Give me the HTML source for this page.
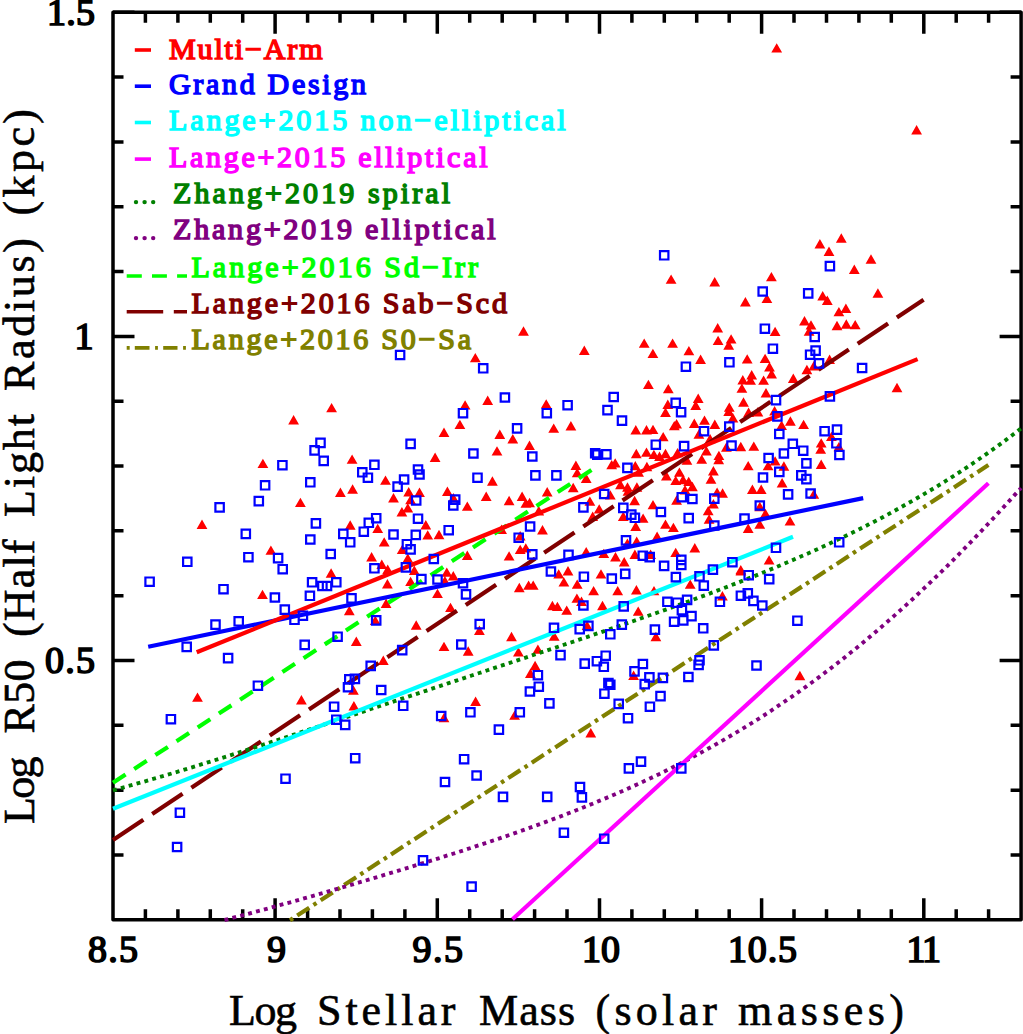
<!DOCTYPE html><html><head><meta charset="utf-8"><style>html,body{margin:0;padding:0;background:#fff;}svg{display:block}</style></head><body>
<svg width="1023" height="1034" viewBox="0 0 1023 1034">
<rect x="0" y="0" width="1023" height="1034" fill="#fff"/>
<g stroke="#000" stroke-width="3.5" fill="none" stroke-linecap="butt">
<path d="M113,919.8 L113,12.2 L1021.1,12.2 L1021.1,919.8 Z" stroke-linejoin="round"/>
<path d="M145.4,919.8v-10.5M145.4,12.2v10.5M177.9,919.8v-10.5M177.9,12.2v10.5M210.3,919.8v-10.5M210.3,12.2v10.5M242.7,919.8v-10.5M242.7,12.2v10.5M275.1,919.8v-21.5M275.1,12.2v21.5M307.6,919.8v-10.5M307.6,12.2v10.5M340.0,919.8v-10.5M340.0,12.2v10.5M372.4,919.8v-10.5M372.4,12.2v10.5M404.9,919.8v-10.5M404.9,12.2v10.5M437.3,919.8v-21.5M437.3,12.2v21.5M469.7,919.8v-10.5M469.7,12.2v10.5M502.2,919.8v-10.5M502.2,12.2v10.5M534.6,919.8v-10.5M534.6,12.2v10.5M567.0,919.8v-10.5M567.0,12.2v10.5M599.5,919.8v-21.5M599.5,12.2v21.5M631.9,919.8v-10.5M631.9,12.2v10.5M664.3,919.8v-10.5M664.3,12.2v10.5M696.7,919.8v-10.5M696.7,12.2v10.5M729.2,919.8v-10.5M729.2,12.2v10.5M761.6,919.8v-21.5M761.6,12.2v21.5M794.0,919.8v-10.5M794.0,12.2v10.5M826.5,919.8v-10.5M826.5,12.2v10.5M858.9,919.8v-10.5M858.9,12.2v10.5M891.3,919.8v-10.5M891.3,12.2v10.5M923.8,919.8v-21.5M923.8,12.2v21.5M956.2,919.8v-10.5M956.2,12.2v10.5M988.6,919.8v-10.5M988.6,12.2v10.5M113,855.0h10.5M1021.1,855.0h-10.5M113,790.2h10.5M1021.1,790.2h-10.5M113,725.3h10.5M1021.1,725.3h-10.5M113,660.5h21.5M1021.1,660.5h-21.5M113,595.7h10.5M1021.1,595.7h-10.5M113,530.8h10.5M1021.1,530.8h-10.5M113,466.0h10.5M1021.1,466.0h-10.5M113,401.2h10.5M1021.1,401.2h-10.5M113,336.4h21.5M1021.1,336.4h-21.5M113,271.5h10.5M1021.1,271.5h-10.5M113,206.7h10.5M1021.1,206.7h-10.5M113,141.9h10.5M1021.1,141.9h-10.5M113,77.0h10.5M1021.1,77.0h-10.5M113,12.2h21.5M1021.1,12.2h-21.5"/>
</g>
<path d="M771.3,52.6h10.8l-5.40,-9.4zM911.2,134.4h10.8l-5.40,-9.4zM518.1,335.7h10.8l-5.40,-9.4zM578.9,355.0h10.8l-5.40,-9.4zM469.9,362.3h10.8l-5.40,-9.4zM520.5,507.7h10.8l-5.40,-9.4zM524.2,507.2h10.8l-5.40,-9.4zM615.1,489.2h10.8l-5.40,-9.4zM606.3,469.3h10.8l-5.40,-9.4zM609.8,467.6h10.8l-5.40,-9.4zM454.5,429.1h10.8l-5.40,-9.4zM794.5,680.2h10.8l-5.40,-9.4zM665.7,283.8h10.8l-5.40,-9.4zM709.3,286.5h10.8l-5.40,-9.4zM766.0,281.3h10.8l-5.40,-9.4zM740.0,306.4h10.8l-5.40,-9.4zM761.5,303.1h10.8l-5.40,-9.4zM712.3,332.4h10.8l-5.40,-9.4zM769.7,336.1h10.8l-5.40,-9.4zM638.8,347.8h10.8l-5.40,-9.4zM667.2,347.8h10.8l-5.40,-9.4zM712.7,345.1h10.8l-5.40,-9.4zM725.7,343.6h10.8l-5.40,-9.4zM723.3,349.7h10.8l-5.40,-9.4zM647.5,358.1h10.8l-5.40,-9.4zM683.5,355.3h10.8l-5.40,-9.4zM695.2,364.0h10.8l-5.40,-9.4zM741.8,363.6h10.8l-5.40,-9.4zM759.7,363.1h10.8l-5.40,-9.4zM764.1,371.4h10.8l-5.40,-9.4zM766.2,378.5h10.8l-5.40,-9.4zM746.3,379.4h10.8l-5.40,-9.4zM737.4,384.4h10.8l-5.40,-9.4zM745.2,384.8h10.8l-5.40,-9.4zM758.2,384.8h10.8l-5.40,-9.4zM736.5,392.8h10.8l-5.40,-9.4zM787.9,382.9h10.8l-5.40,-9.4zM643.0,389.1h10.8l-5.40,-9.4zM662.9,393.3h10.8l-5.40,-9.4zM760.6,397.4h10.8l-5.40,-9.4zM692.8,403.0h10.8l-5.40,-9.4zM814.5,248.5h10.8l-5.40,-9.4zM835.9,242.7h10.8l-5.40,-9.4zM823.6,255.9h10.8l-5.40,-9.4zM865.6,263.7h10.8l-5.40,-9.4zM848.9,273.9h10.8l-5.40,-9.4zM872.5,297.7h10.8l-5.40,-9.4zM817.3,300.5h10.8l-5.40,-9.4zM821.9,304.9h10.8l-5.40,-9.4zM840.5,312.9h10.8l-5.40,-9.4zM833.5,316.3h10.8l-5.40,-9.4zM799.1,325.4h10.8l-5.40,-9.4zM805.6,329.6h10.8l-5.40,-9.4zM803.7,335.8h10.8l-5.40,-9.4zM831.6,330.2h10.8l-5.40,-9.4zM840.9,328.7h10.8l-5.40,-9.4zM849.8,329.3h10.8l-5.40,-9.4zM824.2,364.0h10.8l-5.40,-9.4zM808.4,370.5h10.8l-5.40,-9.4zM801.5,374.2h10.8l-5.40,-9.4zM891.6,392.2h10.8l-5.40,-9.4zM257.5,468.1h10.8l-5.40,-9.4zM196.6,529.0h10.8l-5.40,-9.4zM265.5,554.8h10.8l-5.40,-9.4zM326.2,412.3h10.8l-5.40,-9.4zM288.2,424.4h10.8l-5.40,-9.4zM438.6,437.0h10.8l-5.40,-9.4zM346.7,463.8h10.8l-5.40,-9.4zM429.7,461.9h10.8l-5.40,-9.4zM380.1,484.8h10.8l-5.40,-9.4zM347.2,493.7h10.8l-5.40,-9.4zM335.0,496.9h10.8l-5.40,-9.4zM295.0,507.1h10.8l-5.40,-9.4zM403.3,496.5h10.8l-5.40,-9.4zM414.1,496.9h10.8l-5.40,-9.4zM388.1,502.4h10.8l-5.40,-9.4zM405.2,504.3h10.8l-5.40,-9.4zM402.4,512.6h10.8l-5.40,-9.4zM396.5,516.4h10.8l-5.40,-9.4zM442.0,495.9h10.8l-5.40,-9.4zM344.8,529.7h10.8l-5.40,-9.4zM372.3,533.1h10.8l-5.40,-9.4zM420.4,529.4h10.8l-5.40,-9.4zM422.3,539.6h10.8l-5.40,-9.4zM433.6,539.2h10.8l-5.40,-9.4zM378.8,546.6h10.8l-5.40,-9.4zM396.8,554.1h10.8l-5.40,-9.4zM366.2,561.5h10.8l-5.40,-9.4zM402.4,562.8h10.8l-5.40,-9.4zM376.4,568.9h10.8l-5.40,-9.4zM382.3,573.9h10.8l-5.40,-9.4zM482.3,404.9h10.8l-5.40,-9.4zM459.7,409.6h10.8l-5.40,-9.4zM540.8,408.6h10.8l-5.40,-9.4zM548.3,432.8h10.8l-5.40,-9.4zM565.5,430.4h10.8l-5.40,-9.4zM494.4,438.9h10.8l-5.40,-9.4zM507.4,443.4h10.8l-5.40,-9.4zM524.1,450.0h10.8l-5.40,-9.4zM491.6,455.6h10.8l-5.40,-9.4zM487.0,485.7h10.8l-5.40,-9.4zM570.5,469.9h10.8l-5.40,-9.4zM571.8,477.3h10.8l-5.40,-9.4zM580.8,482.9h10.8l-5.40,-9.4zM448.0,502.4h10.8l-5.40,-9.4zM461.9,510.8h10.8l-5.40,-9.4zM480.8,500.9h10.8l-5.40,-9.4zM503.7,505.2h10.8l-5.40,-9.4zM516.7,500.9h10.8l-5.40,-9.4zM541.8,496.5h10.8l-5.40,-9.4zM567.8,492.2h10.8l-5.40,-9.4zM533.4,515.4h10.8l-5.40,-9.4zM584.5,505.8h10.8l-5.40,-9.4zM593.8,513.6h10.8l-5.40,-9.4zM587.3,521.0h10.8l-5.40,-9.4zM604.9,499.6h10.8l-5.40,-9.4zM617.9,521.0h10.8l-5.40,-9.4zM496.2,534.0h10.8l-5.40,-9.4zM537.1,534.4h10.8l-5.40,-9.4zM514.8,540.5h10.8l-5.40,-9.4zM514.8,554.1h10.8l-5.40,-9.4zM520.4,552.6h10.8l-5.40,-9.4zM461.9,560.0h10.8l-5.40,-9.4zM503.7,560.6h10.8l-5.40,-9.4zM580.8,556.3h10.8l-5.40,-9.4zM598.4,558.1h10.8l-5.40,-9.4zM610.1,561.5h10.8l-5.40,-9.4zM618.8,566.5h10.8l-5.40,-9.4zM662.4,409.0h10.8l-5.40,-9.4zM690.3,409.9h10.8l-5.40,-9.4zM660.1,416.9h10.8l-5.40,-9.4zM668.9,430.3h10.8l-5.40,-9.4zM671.2,428.5h10.8l-5.40,-9.4zM688.9,428.0h10.8l-5.40,-9.4zM699.1,424.8h10.8l-5.40,-9.4zM630.4,434.5h10.8l-5.40,-9.4zM641.1,434.5h10.8l-5.40,-9.4zM647.6,434.1h10.8l-5.40,-9.4zM657.8,441.3h10.8l-5.40,-9.4zM693.5,438.7h10.8l-5.40,-9.4zM630.9,458.2h10.8l-5.40,-9.4zM641.1,456.8h10.8l-5.40,-9.4zM648.5,459.1h10.8l-5.40,-9.4zM654.1,461.0h10.8l-5.40,-9.4zM660.1,458.2h10.8l-5.40,-9.4zM672.2,457.3h10.8l-5.40,-9.4zM701.0,455.4h10.8l-5.40,-9.4zM696.3,463.8h10.8l-5.40,-9.4zM681.5,464.7h10.8l-5.40,-9.4zM629.9,470.3h10.8l-5.40,-9.4zM641.5,471.2h10.8l-5.40,-9.4zM633.2,476.8h10.8l-5.40,-9.4zM674.0,476.8h10.8l-5.40,-9.4zM661.0,480.5h10.8l-5.40,-9.4zM670.3,485.1h10.8l-5.40,-9.4zM677.7,484.2h10.8l-5.40,-9.4zM683.3,486.1h10.8l-5.40,-9.4zM738.1,406.7h10.8l-5.40,-9.4zM723.9,411.8h10.8l-5.40,-9.4zM723.3,416.0h10.8l-5.40,-9.4zM743.2,416.9h10.8l-5.40,-9.4zM752.5,416.4h10.8l-5.40,-9.4zM769.2,415.5h10.8l-5.40,-9.4zM727.5,422.5h10.8l-5.40,-9.4zM709.4,429.0h10.8l-5.40,-9.4zM785.0,425.7h10.8l-5.40,-9.4zM776.2,429.9h10.8l-5.40,-9.4zM704.7,443.3h10.8l-5.40,-9.4zM721.0,451.7h10.8l-5.40,-9.4zM735.4,451.2h10.8l-5.40,-9.4zM748.4,450.8h10.8l-5.40,-9.4zM713.5,460.1h10.8l-5.40,-9.4zM713.3,464.2h10.8l-5.40,-9.4zM769.7,465.6h10.8l-5.40,-9.4zM762.7,470.3h10.8l-5.40,-9.4zM778.5,470.7h10.8l-5.40,-9.4zM742.8,470.3h10.8l-5.40,-9.4zM708.0,475.4h10.8l-5.40,-9.4zM705.6,483.7h10.8l-5.40,-9.4zM776.7,487.5h10.8l-5.40,-9.4zM622.1,491.7h10.8l-5.40,-9.4zM631.5,491.7h10.8l-5.40,-9.4zM622.6,495.7h10.8l-5.40,-9.4zM629.2,505.2h10.8l-5.40,-9.4zM637.7,522.8h10.8l-5.40,-9.4zM630.3,531.0h10.8l-5.40,-9.4zM647.6,509.3h10.8l-5.40,-9.4zM687.0,491.2h10.8l-5.40,-9.4zM679.6,494.5h10.8l-5.40,-9.4zM671.2,504.7h10.8l-5.40,-9.4zM660.1,528.8h10.8l-5.40,-9.4zM668.0,532.1h10.8l-5.40,-9.4zM651.7,540.9h10.8l-5.40,-9.4zM631.3,546.0h10.8l-5.40,-9.4zM622.0,547.8h10.8l-5.40,-9.4zM629.5,559.0h10.8l-5.40,-9.4zM645.2,559.0h10.8l-5.40,-9.4zM670.3,557.1h10.8l-5.40,-9.4zM689.4,552.5h10.8l-5.40,-9.4zM702.8,515.3h10.8l-5.40,-9.4zM703.7,523.7h10.8l-5.40,-9.4zM747.0,494.0h10.8l-5.40,-9.4zM755.8,494.0h10.8l-5.40,-9.4zM711.7,496.8h10.8l-5.40,-9.4zM717.2,497.7h10.8l-5.40,-9.4zM708.0,508.4h10.8l-5.40,-9.4zM754.4,511.2h10.8l-5.40,-9.4zM760.0,518.1h10.8l-5.40,-9.4zM784.6,525.6h10.8l-5.40,-9.4zM754.4,528.8h10.8l-5.40,-9.4zM742.8,533.0h10.8l-5.40,-9.4zM763.7,564.6h10.8l-5.40,-9.4zM735.4,574.3h10.8l-5.40,-9.4zM798.2,429.1h10.8l-5.40,-9.4zM815.8,447.6h10.8l-5.40,-9.4zM815.3,453.8h10.8l-5.40,-9.4zM826.0,441.1h10.8l-5.40,-9.4zM833.5,451.3h10.8l-5.40,-9.4zM815.8,469.0h10.8l-5.40,-9.4zM808.4,498.7h10.8l-5.40,-9.4zM257.1,599.1h10.8l-5.40,-9.4zM192.1,701.8h10.8l-5.40,-9.4zM325.7,577.7h10.8l-5.40,-9.4zM382.0,588.5h10.8l-5.40,-9.4zM408.9,574.9h10.8l-5.40,-9.4zM405.2,586.1h10.8l-5.40,-9.4zM441.4,576.8h10.8l-5.40,-9.4zM447.9,580.5h10.8l-5.40,-9.4zM439.5,585.5h10.8l-5.40,-9.4zM432.1,598.1h10.8l-5.40,-9.4zM380.7,608.0h10.8l-5.40,-9.4zM343.9,615.2h10.8l-5.40,-9.4zM445.1,612.1h10.8l-5.40,-9.4zM369.9,625.1h10.8l-5.40,-9.4zM410.8,629.7h10.8l-5.40,-9.4zM350.9,645.9h10.8l-5.40,-9.4zM438.6,651.1h10.8l-5.40,-9.4zM377.9,665.0h10.8l-5.40,-9.4zM348.0,694.7h10.8l-5.40,-9.4zM296.0,704.4h10.8l-5.40,-9.4zM348.5,710.5h10.8l-5.40,-9.4zM438.6,722.2h10.8l-5.40,-9.4zM513.9,592.2h10.8l-5.40,-9.4zM523.2,589.8h10.8l-5.40,-9.4zM527.8,589.8h10.8l-5.40,-9.4zM553.3,578.6h10.8l-5.40,-9.4zM562.6,575.5h10.8l-5.40,-9.4zM558.5,586.6h10.8l-5.40,-9.4zM571.8,588.8h10.8l-5.40,-9.4zM588.2,595.3h10.8l-5.40,-9.4zM595.6,578.6h10.8l-5.40,-9.4zM612.3,595.3h10.8l-5.40,-9.4zM547.0,610.2h10.8l-5.40,-9.4zM552.0,611.1h10.8l-5.40,-9.4zM561.3,614.8h10.8l-5.40,-9.4zM571.5,602.8h10.8l-5.40,-9.4zM576.1,605.9h10.8l-5.40,-9.4zM597.1,610.2h10.8l-5.40,-9.4zM474.0,634.9h10.8l-5.40,-9.4zM506.1,641.2h10.8l-5.40,-9.4zM548.8,640.8h10.8l-5.40,-9.4zM581.7,630.1h10.8l-5.40,-9.4zM462.8,655.7h10.8l-5.40,-9.4zM513.0,656.6h10.8l-5.40,-9.4zM532.5,653.8h10.8l-5.40,-9.4zM529.7,670.2h10.8l-5.40,-9.4zM525.0,678.0h10.8l-5.40,-9.4zM470.2,705.9h10.8l-5.40,-9.4zM509.2,719.8h10.8l-5.40,-9.4zM585.4,737.4h10.8l-5.40,-9.4zM735.5,575.5h10.8l-5.40,-9.4zM684.8,588.8h10.8l-5.40,-9.4zM631.0,594.4h10.8l-5.40,-9.4zM648.6,595.3h10.8l-5.40,-9.4zM717.0,600.4h10.8l-5.40,-9.4zM632.8,615.8h10.8l-5.40,-9.4zM650.5,641.2h10.8l-5.40,-9.4zM628.2,679.9h10.8l-5.40,-9.4z" fill="#ff0000"/>
<path d="M113.0,782.8 L592.3,469.5" fill="none" stroke="#00ff00" stroke-width="4.2" stroke-linecap="butt" stroke-dasharray="15 10.3"/>
<path d="M113.0,840.0 L923.6,299.8" fill="none" stroke="#800000" stroke-width="4.2" stroke-linecap="butt" stroke-dasharray="36.5 10.6"/>
<path d="M290,920.3 L988.4,465" fill="none" stroke="#808000" stroke-width="4.2" stroke-dasharray="3.6 5 14.4 5"/>
<path d="M113.0,790.3 L120.6,788.2 L128.3,786.1 L135.9,783.9 L143.5,781.8 L151.2,779.5 L158.8,777.3 L166.4,775.0 L174.0,772.8 L181.7,770.5 L189.3,768.1 L196.9,765.8 L204.6,763.4 L212.2,761.0 L219.8,758.6 L227.5,756.2 L235.1,753.7 L242.7,751.3 L250.3,748.8 L258.0,746.4 L265.6,743.9 L273.2,741.4 L280.9,738.9 L288.5,736.4 L296.1,733.9 L303.8,731.4 L311.4,728.8 L319.0,726.3 L326.6,723.8 L334.3,721.2 L341.9,718.7 L349.5,716.2 L357.2,713.6 L364.8,711.1 L372.4,708.5 L380.1,706.0 L387.7,703.5 L395.3,700.9 L402.9,698.4 L410.6,695.8 L418.2,693.3 L425.8,690.8 L433.5,688.2 L441.1,685.7 L448.7,683.1 L456.4,680.6 L464.0,678.1 L471.6,675.5 L479.3,673.0 L486.9,670.5 L494.5,667.9 L502.1,665.4 L509.8,662.9 L517.4,660.3 L525.0,657.8 L532.7,655.2 L540.3,652.7 L547.9,650.1 L555.6,647.6 L563.2,645.0 L570.8,642.5 L578.4,639.9 L586.1,637.3 L593.7,634.7 L601.3,632.1 L609.0,629.5 L616.6,626.9 L624.2,624.2 L631.9,621.6 L639.5,618.9 L647.1,616.2 L654.7,613.5 L662.4,610.8 L670.0,608.1 L677.6,605.3 L685.3,602.6 L692.9,599.8 L700.5,596.9 L708.2,594.1 L715.8,591.2 L723.4,588.3 L731.1,585.3 L738.7,582.3 L746.3,579.3 L753.9,576.3 L761.6,573.2 L769.2,570.0 L776.8,566.9 L784.5,563.6 L792.1,560.4 L799.7,557.0 L807.4,553.7 L815.0,550.3 L822.6,546.8 L830.2,543.2 L837.9,539.6 L845.5,536.0 L853.1,532.3 L860.8,528.5 L868.4,524.6 L876.0,520.7 L883.7,516.7 L891.3,512.6 L898.9,508.4 L906.5,504.1 L914.2,499.8 L921.8,495.4 L929.4,490.9 L937.1,486.3 L944.7,481.6 L952.3,476.8 L960.0,471.8 L967.6,466.8 L975.2,461.7 L982.8,456.5 L990.5,451.1 L998.1,445.7 L1005.7,440.1 L1013.4,434.3 L1021.0,428.5" fill="none" stroke="#008000" stroke-width="3.9" stroke-linecap="butt" stroke-dasharray="3.9 4.25"/>
<path d="M224.5,920.0 L231.2,918.3 L237.9,916.5 L244.6,914.8 L251.3,913.0 L258.0,911.2 L264.7,909.4 L271.4,907.5 L278.0,905.7 L284.7,903.8 L291.4,902.0 L298.1,900.1 L304.8,898.2 L311.5,896.3 L318.2,894.4 L324.9,892.5 L331.6,890.5 L338.3,888.6 L345.0,886.6 L351.7,884.7 L358.4,882.7 L365.1,880.7 L371.8,878.7 L378.4,876.7 L385.1,874.7 L391.8,872.7 L398.5,870.7 L405.2,868.6 L411.9,866.6 L418.6,864.5 L425.3,862.4 L432.0,860.4 L438.7,858.3 L445.4,856.1 L452.1,854.0 L458.8,851.9 L465.5,849.7 L472.2,847.5 L478.8,845.3 L485.5,843.1 L492.2,840.8 L498.9,838.6 L505.6,836.3 L512.3,834.0 L519.0,831.6 L525.7,829.2 L532.4,826.8 L539.1,824.4 L545.8,821.9 L552.5,819.4 L559.2,816.9 L565.9,814.3 L572.6,811.7 L579.2,809.1 L585.9,806.4 L592.6,803.7 L599.3,800.9 L606.0,798.1 L612.7,795.3 L619.4,792.4 L626.1,789.4 L632.8,786.4 L639.5,783.4 L646.2,780.2 L652.9,777.1 L659.6,773.9 L666.3,770.6 L672.9,767.2 L679.6,763.9 L686.3,760.4 L693.0,756.9 L699.7,753.3 L706.4,749.6 L713.1,745.9 L719.8,742.1 L726.5,738.3 L733.2,734.3 L739.9,730.3 L746.6,726.3 L753.3,722.1 L760.0,717.9 L766.7,713.6 L773.3,709.2 L780.0,704.7 L786.7,700.2 L793.4,695.6 L800.1,690.9 L806.8,686.1 L813.5,681.2 L820.2,676.3 L826.9,671.2 L833.6,666.1 L840.3,660.9 L847.0,655.6 L853.7,650.2 L860.4,644.8 L867.1,639.2 L873.7,633.6 L880.4,627.8 L887.1,622.0 L893.8,616.1 L900.5,610.1 L907.2,604.1 L913.9,597.9 L920.6,591.6 L927.3,585.3 L934.0,578.9 L940.7,572.4 L947.4,565.8 L954.1,559.1 L960.8,552.3 L967.5,545.5 L974.1,538.6 L980.8,531.6 L987.5,524.5 L994.2,517.4 L1000.9,510.1 L1007.6,502.8 L1014.3,495.4 L1021.0,488.0" fill="none" stroke="#800080" stroke-width="3.9" stroke-linecap="butt" stroke-dasharray="3.9 4.25"/>
<path d="M113.0,808.8 L793.0,536.8" fill="none" stroke="#00ffff" stroke-width="4.2" stroke-linecap="butt"/>
<path d="M512.5,919.2 L988.4,483.3" fill="none" stroke="#ff00ff" stroke-width="4.2" stroke-linecap="butt"/>
<path d="M148.2,646.8 L863.2,498.1" fill="none" stroke="#0000ff" stroke-width="4.2" stroke-linecap="butt"/>
<path d="M196.7,652.3 L917.6,359.1" fill="none" stroke="#ff0000" stroke-width="4.2" stroke-linecap="butt"/>
<path d="M395.9,350.8h8.4v8.4h-8.4zM479.0,364.1h8.4v8.4h-8.4zM500.7,393.3h8.4v8.4h-8.4zM609.5,392.8h8.4v8.4h-8.4zM591.0,449.0h8.4v8.4h-8.4zM593.1,450.5h8.4v8.4h-8.4zM602.2,450.2h8.4v8.4h-8.4zM458.8,409.0h8.4v8.4h-8.4zM627.1,510.4h8.4v8.4h-8.4zM630.7,513.6h8.4v8.4h-8.4zM793.2,616.5h8.4v8.4h-8.4zM175.7,808.5h8.4v8.4h-8.4zM172.9,842.8h8.4v8.4h-8.4zM281.3,774.5h8.4v8.4h-8.4zM351.0,754.0h8.4v8.4h-8.4zM440.8,777.8h8.4v8.4h-8.4zM418.8,856.2h8.4v8.4h-8.4zM459.9,755.0h8.4v8.4h-8.4zM472.4,771.3h8.4v8.4h-8.4zM498.8,792.7h8.4v8.4h-8.4zM543.0,792.7h8.4v8.4h-8.4zM575.8,782.8h8.4v8.4h-8.4zM577.7,793.2h8.4v8.4h-8.4zM559.7,828.5h8.4v8.4h-8.4zM600.0,834.5h8.4v8.4h-8.4zM467.4,882.4h8.4v8.4h-8.4zM624.7,764.2h8.4v8.4h-8.4zM636.8,757.4h8.4v8.4h-8.4zM677.1,764.2h8.4v8.4h-8.4zM660.0,251.1h8.4v8.4h-8.4zM758.5,287.3h8.4v8.4h-8.4zM760.7,324.5h8.4v8.4h-8.4zM768.7,344.5h8.4v8.4h-8.4zM681.7,362.5h8.4v8.4h-8.4zM725.2,358.1h8.4v8.4h-8.4zM825.7,261.9h8.4v8.4h-8.4zM804.0,289.2h8.4v8.4h-8.4zM810.5,332.8h8.4v8.4h-8.4zM811.4,346.4h8.4v8.4h-8.4zM805.9,350.5h8.4v8.4h-8.4zM814.8,359.2h8.4v8.4h-8.4zM857.9,363.8h8.4v8.4h-8.4zM825.7,392.2h8.4v8.4h-8.4zM278.2,461.0h8.4v8.4h-8.4zM260.9,481.1h8.4v8.4h-8.4zM254.6,496.9h8.4v8.4h-8.4zM215.4,503.2h8.4v8.4h-8.4zM241.6,529.7h8.4v8.4h-8.4zM244.2,553.0h8.4v8.4h-8.4zM273.9,553.9h8.4v8.4h-8.4zM278.5,565.0h8.4v8.4h-8.4zM183.1,557.6h8.4v8.4h-8.4zM316.3,438.7h8.4v8.4h-8.4zM310.4,446.2h8.4v8.4h-8.4zM319.5,456.7h8.4v8.4h-8.4zM406.4,439.7h8.4v8.4h-8.4zM370.2,460.6h8.4v8.4h-8.4zM358.1,468.1h8.4v8.4h-8.4zM363.7,473.5h8.4v8.4h-8.4zM306.1,478.1h8.4v8.4h-8.4zM413.8,465.3h8.4v8.4h-8.4zM415.3,470.3h8.4v8.4h-8.4zM399.9,475.3h8.4v8.4h-8.4zM393.4,482.4h8.4v8.4h-8.4zM412.0,496.3h8.4v8.4h-8.4zM449.1,501.3h8.4v8.4h-8.4zM311.7,519.2h8.4v8.4h-8.4zM372.0,514.0h8.4v8.4h-8.4zM364.6,518.6h8.4v8.4h-8.4zM359.6,527.5h8.4v8.4h-8.4zM339.1,529.7h8.4v8.4h-8.4zM346.0,538.1h8.4v8.4h-8.4zM306.1,535.3h8.4v8.4h-8.4zM413.8,514.5h8.4v8.4h-8.4zM389.3,530.3h8.4v8.4h-8.4zM411.6,530.7h8.4v8.4h-8.4zM444.5,526.0h8.4v8.4h-8.4zM402.7,540.0h8.4v8.4h-8.4zM406.4,545.2h8.4v8.4h-8.4zM326.5,549.8h8.4v8.4h-8.4zM370.2,564.1h8.4v8.4h-8.4zM401.7,563.2h8.4v8.4h-8.4zM429.6,554.8h8.4v8.4h-8.4zM542.6,409.0h8.4v8.4h-8.4zM563.4,401.0h8.4v8.4h-8.4zM603.3,405.9h8.4v8.4h-8.4zM617.8,416.4h8.4v8.4h-8.4zM512.9,424.2h8.4v8.4h-8.4zM469.2,449.3h8.4v8.4h-8.4zM528.1,452.3h8.4v8.4h-8.4zM473.3,473.5h8.4v8.4h-8.4zM531.2,471.2h8.4v8.4h-8.4zM552.2,471.2h8.4v8.4h-8.4zM451.0,495.4h8.4v8.4h-8.4zM600.0,489.8h8.4v8.4h-8.4zM579.2,503.2h8.4v8.4h-8.4zM619.1,503.7h8.4v8.4h-8.4zM525.9,522.3h8.4v8.4h-8.4zM514.5,533.5h8.4v8.4h-8.4zM528.1,550.2h8.4v8.4h-8.4zM564.3,550.7h8.4v8.4h-8.4zM671.5,398.7h8.4v8.4h-8.4zM676.9,408.0h8.4v8.4h-8.4zM699.8,427.0h8.4v8.4h-8.4zM651.6,440.5h8.4v8.4h-8.4zM679.9,441.9h8.4v8.4h-8.4zM623.2,463.7h8.4v8.4h-8.4zM771.8,395.9h8.4v8.4h-8.4zM773.2,412.2h8.4v8.4h-8.4zM725.1,422.4h8.4v8.4h-8.4zM775.1,429.8h8.4v8.4h-8.4zM727.3,441.4h8.4v8.4h-8.4zM788.6,439.6h8.4v8.4h-8.4zM779.7,449.3h8.4v8.4h-8.4zM764.4,453.8h8.4v8.4h-8.4zM775.1,467.7h8.4v8.4h-8.4zM758.8,473.3h8.4v8.4h-8.4zM677.6,493.0h8.4v8.4h-8.4zM688.2,494.8h8.4v8.4h-8.4zM656.7,507.8h8.4v8.4h-8.4zM684.5,513.9h8.4v8.4h-8.4zM621.8,536.2h8.4v8.4h-8.4zM638.6,551.5h8.4v8.4h-8.4zM645.5,552.9h8.4v8.4h-8.4zM659.9,561.7h8.4v8.4h-8.4zM677.1,555.7h8.4v8.4h-8.4zM677.1,560.8h8.4v8.4h-8.4zM783.9,490.2h8.4v8.4h-8.4zM710.1,494.4h8.4v8.4h-8.4zM755.6,501.3h8.4v8.4h-8.4zM740.3,514.3h8.4v8.4h-8.4zM710.1,521.3h8.4v8.4h-8.4zM771.8,543.6h8.4v8.4h-8.4zM728.2,558.0h8.4v8.4h-8.4zM708.7,565.4h8.4v8.4h-8.4zM820.4,427.0h8.4v8.4h-8.4zM832.8,425.4h8.4v8.4h-8.4zM799.0,446.5h8.4v8.4h-8.4zM832.2,439.1h8.4v8.4h-8.4zM835.2,450.8h8.4v8.4h-8.4zM802.2,459.2h8.4v8.4h-8.4zM797.1,471.2h8.4v8.4h-8.4zM802.2,474.9h8.4v8.4h-8.4zM806.4,489.3h8.4v8.4h-8.4zM835.0,538.1h8.4v8.4h-8.4zM145.4,577.5h8.4v8.4h-8.4zM219.3,585.0h8.4v8.4h-8.4zM270.7,593.3h8.4v8.4h-8.4zM280.6,605.4h8.4v8.4h-8.4zM211.3,620.4h8.4v8.4h-8.4zM234.5,617.1h8.4v8.4h-8.4zM182.5,642.7h8.4v8.4h-8.4zM223.9,653.9h8.4v8.4h-8.4zM253.7,681.5h8.4v8.4h-8.4zM166.7,715.0h8.4v8.4h-8.4zM307.9,578.1h8.4v8.4h-8.4zM318.2,581.8h8.4v8.4h-8.4zM322.8,581.8h8.4v8.4h-8.4zM332.1,578.1h8.4v8.4h-8.4zM305.7,591.6h8.4v8.4h-8.4zM347.3,594.2h8.4v8.4h-8.4zM298.7,611.5h8.4v8.4h-8.4zM290.3,615.6h8.4v8.4h-8.4zM372.0,616.2h8.4v8.4h-8.4zM417.2,574.9h8.4v8.4h-8.4zM433.3,575.3h8.4v8.4h-8.4zM333.4,632.5h8.4v8.4h-8.4zM300.5,640.7h8.4v8.4h-8.4zM398.0,645.9h8.4v8.4h-8.4zM366.5,661.7h8.4v8.4h-8.4zM345.1,675.2h8.4v8.4h-8.4zM350.7,674.7h8.4v8.4h-8.4zM343.8,683.0h8.4v8.4h-8.4zM377.0,685.8h8.4v8.4h-8.4zM329.9,702.5h8.4v8.4h-8.4zM399.0,701.6h8.4v8.4h-8.4zM332.1,715.5h8.4v8.4h-8.4zM341.0,720.7h8.4v8.4h-8.4zM437.0,711.8h8.4v8.4h-8.4zM458.8,579.0h8.4v8.4h-8.4zM461.8,590.2h8.4v8.4h-8.4zM546.7,567.3h8.4v8.4h-8.4zM579.7,572.5h8.4v8.4h-8.4zM607.6,574.4h8.4v8.4h-8.4zM579.2,601.3h8.4v8.4h-8.4zM619.5,602.2h8.4v8.4h-8.4zM475.5,619.9h8.4v8.4h-8.4zM549.8,623.6h8.4v8.4h-8.4zM575.5,624.9h8.4v8.4h-8.4zM584.2,621.7h8.4v8.4h-8.4zM617.6,620.4h8.4v8.4h-8.4zM606.1,630.1h8.4v8.4h-8.4zM457.1,640.3h8.4v8.4h-8.4zM556.3,650.9h8.4v8.4h-8.4zM580.5,659.4h8.4v8.4h-8.4zM592.7,657.0h8.4v8.4h-8.4zM601.5,651.5h8.4v8.4h-8.4zM599.6,662.6h8.4v8.4h-8.4zM533.7,671.0h8.4v8.4h-8.4zM534.6,682.5h8.4v8.4h-8.4zM525.7,687.3h8.4v8.4h-8.4zM604.2,678.8h8.4v8.4h-8.4zM606.1,680.6h8.4v8.4h-8.4zM600.2,689.5h8.4v8.4h-8.4zM545.2,699.2h8.4v8.4h-8.4zM614.5,699.7h8.4v8.4h-8.4zM466.2,708.1h8.4v8.4h-8.4zM515.6,708.1h8.4v8.4h-8.4zM494.7,725.4h8.4v8.4h-8.4zM621.0,569.7h8.4v8.4h-8.4zM671.7,572.9h8.4v8.4h-8.4zM695.3,572.1h8.4v8.4h-8.4zM699.6,581.4h8.4v8.4h-8.4zM744.5,571.0h8.4v8.4h-8.4zM765.0,574.9h8.4v8.4h-8.4zM663.2,597.6h8.4v8.4h-8.4zM673.0,598.5h8.4v8.4h-8.4zM682.9,595.7h8.4v8.4h-8.4zM677.7,605.9h8.4v8.4h-8.4zM687.3,611.9h8.4v8.4h-8.4zM669.9,617.5h8.4v8.4h-8.4zM679.1,616.2h8.4v8.4h-8.4zM715.7,597.6h8.4v8.4h-8.4zM736.7,591.5h8.4v8.4h-8.4zM743.6,589.2h8.4v8.4h-8.4zM749.2,596.7h8.4v8.4h-8.4zM758.1,601.3h8.4v8.4h-8.4zM650.7,625.4h8.4v8.4h-8.4zM699.0,624.1h8.4v8.4h-8.4zM709.6,641.2h8.4v8.4h-8.4zM695.3,656.1h8.4v8.4h-8.4zM694.4,660.7h8.4v8.4h-8.4zM638.7,659.8h8.4v8.4h-8.4zM630.3,667.2h8.4v8.4h-8.4zM645.2,673.2h8.4v8.4h-8.4zM658.7,673.7h8.4v8.4h-8.4zM640.5,679.9h8.4v8.4h-8.4zM684.2,672.8h8.4v8.4h-8.4zM752.3,661.3h8.4v8.4h-8.4zM656.3,691.9h8.4v8.4h-8.4zM645.7,702.5h8.4v8.4h-8.4zM623.8,714.0h8.4v8.4h-8.4z" fill="none" stroke="#0000ff" stroke-width="2.2"/>
<text x="0" y="0" font-family="Liberation Serif" font-weight="normal" font-size="30" fill="#ff0000" stroke="#ff0000" stroke-width="1.5" textLength="153.5" lengthAdjust="spacing" transform="translate(169.0 58.7)">Multi−Arm</text>
<text x="0" y="0" font-family="Liberation Serif" font-weight="normal" font-size="30" fill="#0000ff" stroke="#0000ff" stroke-width="1.5" textLength="197.0" lengthAdjust="spacing" transform="translate(169.0 94.0)">Grand Design</text>
<text x="0" y="0" font-family="Liberation Serif" font-weight="normal" font-size="30" fill="#00ffff" stroke="#00ffff" stroke-width="1.5" textLength="396.5" lengthAdjust="spacing" transform="translate(169.0 130.4)">Lange+2015 non−elliptical</text>
<text x="0" y="0" font-family="Liberation Serif" font-weight="normal" font-size="30" fill="#ff00ff" stroke="#ff00ff" stroke-width="1.5" textLength="318.5" lengthAdjust="spacing" transform="translate(169.0 166.7)">Lange+2015 elliptical</text>
<text x="0" y="0" font-family="Liberation Serif" font-weight="normal" font-size="30" fill="#008000" stroke="#008000" stroke-width="1.5" textLength="277.0" lengthAdjust="spacing" transform="translate(173.0 203.0)">Zhang+2019 spiral</text>
<text x="0" y="0" font-family="Liberation Serif" font-weight="normal" font-size="30" fill="#800080" stroke="#800080" stroke-width="1.5" textLength="322.5" lengthAdjust="spacing" transform="translate(173.0 239.1)">Zhang+2019 elliptical</text>
<text x="0" y="0" font-family="Liberation Serif" font-weight="normal" font-size="30" fill="#00ff00" stroke="#00ff00" stroke-width="1.5" textLength="286.5" lengthAdjust="spacing" transform="translate(191.5 276.5)">Lange+2016 Sd−Irr</text>
<text x="0" y="0" font-family="Liberation Serif" font-weight="normal" font-size="30" fill="#800000" stroke="#800000" stroke-width="1.5" textLength="315.5" lengthAdjust="spacing" transform="translate(191.5 312.6)">Lange+2016 Sab−Scd</text>
<text x="0" y="0" font-family="Liberation Serif" font-weight="normal" font-size="30" fill="#808000" stroke="#808000" stroke-width="1.5" textLength="279.5" lengthAdjust="spacing" transform="translate(191.5 348.7)">Lange+2016 S0−Sa</text>
<text x="0" y="0" font-family="Liberation Serif" font-weight="normal" font-size="38" fill="#000" stroke="#000" stroke-width="1.7" textLength="50.0" lengthAdjust="spacing" transform="translate(88 962)">8.5</text>
<text x="0" y="0" font-family="Liberation Serif" font-weight="normal" font-size="38" fill="#000" stroke="#000" stroke-width="1.7" transform="translate(267 962)">9</text>
<text x="0" y="0" font-family="Liberation Serif" font-weight="normal" font-size="38" fill="#000" stroke="#000" stroke-width="1.7" textLength="50.5" lengthAdjust="spacing" transform="translate(412.5 962)">9.5</text>
<text x="0" y="0" font-family="Liberation Serif" font-weight="normal" font-size="38" fill="#000" stroke="#000" stroke-width="1.7" textLength="38.0" lengthAdjust="spacing" transform="translate(582.0 962)">10</text>
<text x="0" y="0" font-family="Liberation Serif" font-weight="normal" font-size="38" fill="#000" stroke="#000" stroke-width="1.7" textLength="69.0" lengthAdjust="spacing" transform="translate(728.0 962)">10.5</text>
<text x="0" y="0" font-family="Liberation Serif" font-weight="normal" font-size="38" fill="#000" stroke="#000" stroke-width="1.7" textLength="34.5" lengthAdjust="spacing" transform="translate(906.5 962)">11</text>
<text x="0" y="0" font-family="Liberation Serif" font-weight="normal" font-size="38" fill="#000" stroke="#000" stroke-width="1.7" textLength="50.0" lengthAdjust="spacing" transform="translate(45.0 673)">0.5</text>
<text x="0" y="0" font-family="Liberation Serif" font-weight="normal" font-size="38" fill="#000" stroke="#000" stroke-width="1.7" transform="translate(74.5 349)">1</text>
<text x="0" y="0" font-family="Liberation Serif" font-weight="normal" font-size="38" fill="#000" stroke="#000" stroke-width="1.7" textLength="48.0" lengthAdjust="spacing" transform="translate(47 25)">1.5</text>
<text x="0" y="0" font-family="Liberation Serif" font-weight="normal" font-size="44" fill="#000" stroke="#000" stroke-width="0.6" textLength="68.0" lengthAdjust="spacing" transform="translate(229.0 1024.5)">Log</text>
<text x="0" y="0" font-family="Liberation Serif" font-weight="normal" font-size="44" fill="#000" stroke="#000" stroke-width="0.6" textLength="138.5" lengthAdjust="spacing" transform="translate(317 1024.5)">Stellar</text>
<text x="0" y="0" font-family="Liberation Serif" font-weight="normal" font-size="44" fill="#000" stroke="#000" stroke-width="0.6" textLength="96.0" lengthAdjust="spacing" transform="translate(479.0 1024.5)">Mass</text>
<text x="0" y="0" font-family="Liberation Serif" font-weight="normal" font-size="44" fill="#000" stroke="#000" stroke-width="0.6" textLength="121.5" lengthAdjust="spacing" transform="translate(595.5 1024.5)">(solar</text>
<text x="0" y="0" font-family="Liberation Serif" font-weight="normal" font-size="44" fill="#000" stroke="#000" stroke-width="0.6" textLength="166.0" lengthAdjust="spacing" transform="translate(738.0 1024.5)">masses)</text>
<text x="0" y="0" font-family="Liberation Serif" font-weight="normal" font-size="44" fill="#000" stroke="#000" stroke-width="0.6" textLength="67.5" lengthAdjust="spacing" transform="translate(33.5 824) rotate(-90)">Log</text>
<text x="0" y="0" font-family="Liberation Serif" font-weight="normal" font-size="44" fill="#000" stroke="#000" stroke-width="0.6" textLength="74.0" lengthAdjust="spacing" transform="translate(33.5 733.5) rotate(-90)">R50</text>
<text x="0" y="0" font-family="Liberation Serif" font-weight="normal" font-size="44" fill="#000" stroke="#000" stroke-width="0.6" textLength="97.5" lengthAdjust="spacing" transform="translate(33.5 637) rotate(-90)">(Half</text>
<text x="0" y="0" font-family="Liberation Serif" font-weight="normal" font-size="44" fill="#000" stroke="#000" stroke-width="0.6" textLength="103.0" lengthAdjust="spacing" transform="translate(33.5 517.0) rotate(-90)">Light</text>
<text x="0" y="0" font-family="Liberation Serif" font-weight="normal" font-size="44" fill="#000" stroke="#000" stroke-width="0.6" textLength="153.0" lengthAdjust="spacing" transform="translate(33.5 391.0) rotate(-90)">Radius)</text>
<text x="0" y="0" font-family="Liberation Serif" font-weight="normal" font-size="44" fill="#000" stroke="#000" stroke-width="0.6" textLength="106.5" lengthAdjust="spacing" transform="translate(33.5 215.5) rotate(-90)">(kpc)</text>
<g fill="none" stroke-width="3.6">
<path d="M134.8,50H151" stroke="#ff0000"/>
<path d="M134.8,86.2H151" stroke="#0000ff"/>
<path d="M134.8,122.5H151" stroke="#00ffff"/>
<path d="M134.8,159.1H151" stroke="#ff00ff"/>
<path d="M126.7,276H141.8M152,276H166.9M177.1,276H187" stroke="#00ff00"/>
<path d="M126.7,311.8H163.2M173.8,311.8H187" stroke="#800000"/>
<path d="M126.7,347.9H129.7M134.8,347.9H149.5M155.1,347.9H157.9M163.2,347.9H177.5M183.1,347.9H185.9" stroke="#808000"/>
</g>
<circle cx="136" cy="202.1" r="2.2" fill="#008000"/>
<circle cx="144.6" cy="202.1" r="2.2" fill="#008000"/>
<circle cx="153.2" cy="202.1" r="2.2" fill="#008000"/>
<circle cx="136" cy="238.1" r="2.2" fill="#800080"/>
<circle cx="144.6" cy="238.1" r="2.2" fill="#800080"/>
<circle cx="153.2" cy="238.1" r="2.2" fill="#800080"/>
</svg></body></html>
